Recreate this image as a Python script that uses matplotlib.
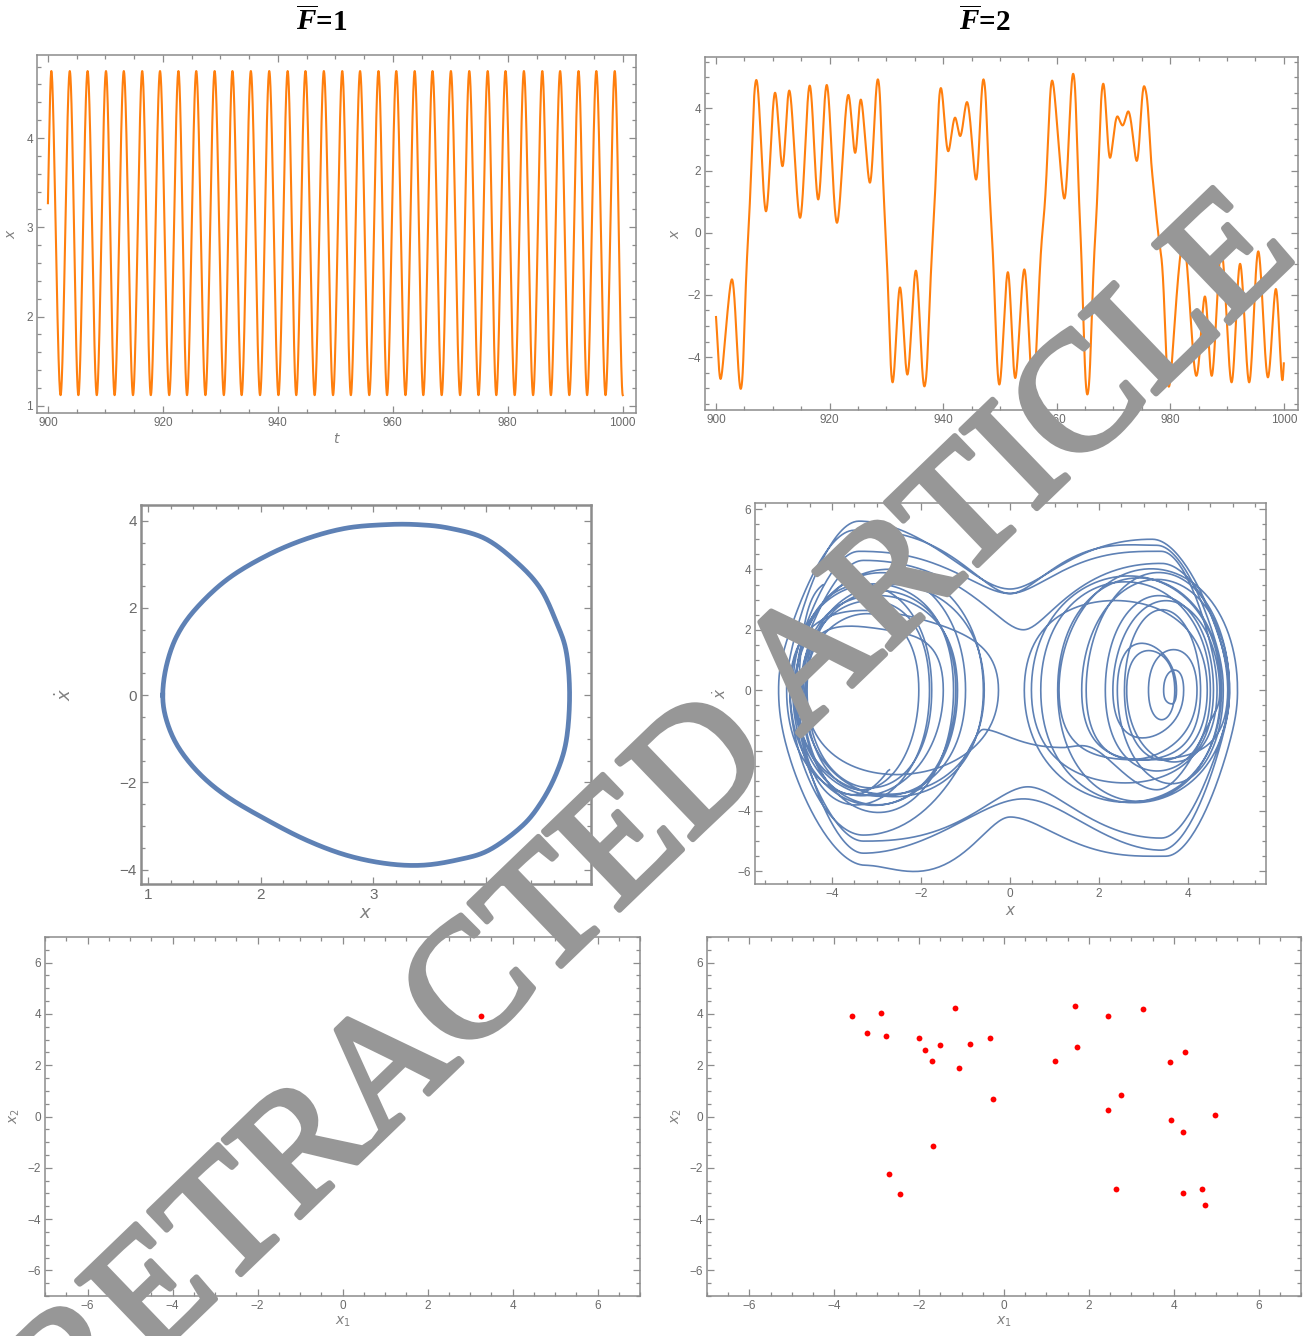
import numpy as np
import matplotlib
matplotlib.use("Agg")
import matplotlib.pyplot as plt
import matplotlib.patheffects as pe
from matplotlib.ticker import MultipleLocator

plt.rcParams['font.family'] = ['Liberation Sans', 'DejaVu Sans']
plt.rcParams['mathtext.fontset'] = 'dejavusans'
# serif bold italic only used by the column headings (math_fontfamily='custom')
plt.rcParams['mathtext.it'] = 'Liberation Serif:bold:italic'
plt.rcParams['mathtext.rm'] = 'Liberation Serif:bold'
plt.rcParams['mathtext.bf'] = 'Liberation Serif:bold'

# ---------------------------------------------------------------
# F = 1 : periodic response (extrema of x(t), 900 <= t <= 1000)
# ---------------------------------------------------------------
f1_peak_t = [900.6, 903.8, 906.9, 910.1, 913.2, 916.4, 919.5, 922.7,
             925.8, 929.0, 932.1, 935.3, 938.5, 941.7, 944.8, 948.0,
             951.2, 954.3, 957.5, 960.6, 963.8, 966.9, 970.1, 973.3,
             976.5, 979.6, 982.8, 986.0, 989.1, 992.3, 995.4, 998.6]
f1_trough_t = [902.2, 905.3, 908.5, 911.6, 914.8, 917.9, 921.1, 924.2,
               927.4, 930.6, 933.7, 936.9, 940.1, 943.2, 946.4, 949.6,
               952.7, 955.9, 959.0, 962.2, 965.3, 968.5, 971.7, 974.9,
               978.0, 981.2, 984.4, 987.5, 990.7, 993.8, 997.0, 1000.0]
f1_peak_x = 4.75
f1_trough_x = 1.12
f1_start = (900.0, 3.27, 3.0)   # t, x, dx/dt

# phase loop (x, dx/dt) for F = 1
f1_loop_x = [1.13, 1.165, 1.26, 1.43, 1.71, 2.06, 2.41, 2.76, 3.11, 3.39,
             3.67, 3.99, 4.27, 4.48, 4.62, 4.71, 4.74, 4.71, 4.62, 4.48,
             4.31, 4.02, 3.74, 3.43, 3.11, 2.76, 2.41, 2.06, 1.71, 1.46,
             1.27, 1.165, 1.13]
f1_loop_v = [0.0, 0.70, 1.38, 2.00, 2.67, 3.21, 3.59, 3.83, 3.91, 3.91,
             3.83, 3.59, 3.05, 2.45, 1.69, 1.00, 0.0, -1.05, -1.81, -2.49,
             -3.02, -3.56, -3.78, -3.90, -3.86, -3.67, -3.33, -2.87, -2.34,
             -1.81, -1.20, -0.59, 0.0]

# Poincare section, F = 1
f1_pc_x1 = [3.27]
f1_pc_x2 = [3.91]

# ---------------------------------------------------------------
# F = 2 : chaotic response, knots of x(t) with slope dx/dt
# (turning points have zero slope; well-to-well passages carry
#  intermediate knots)
# ---------------------------------------------------------------
f2_t = [900.0, 900.8, 902.8, 904.35,
        904.93, 905.69, 906.44,
        907.1, 908.8, 910.4, 911.7, 912.9, 914.8, 916.5, 918.0, 919.5,
        921.3, 923.3, 924.5, 925.5, 927.1, 928.5,
        929.08, 929.78, 930.58,
        931.1, 932.4, 933.7, 935.2, 936.7,
        937.37, 938.22, 939.06,
        939.6, 940.9, 942.1, 943.0, 944.2, 945.8, 947.1,
        947.72, 948.45, 949.32,
        949.9, 951.4, 952.7, 954.3, 955.8,
        956.52, 957.62, 958.58,
        959.2, 961.35, 962.9,
        963.48, 964.18, 964.78,
        965.4,
        966.03, 966.82, 967.6,
        968.2, 969.4, 970.7, 971.6, 972.6, 974.1, 975.4,
        976.3, 977.2, 978.3, 979.15,
        979.75, 982.3, 984.6, 986.1, 987.3, 989.0, 990.8, 992.3, 993.9,
        995.5, 997.2, 998.6, 999.75, 1000.0]
f2_x = [-2.71, -4.70, -1.50, -5.02,
        -3.4, 0.0, 3.2,
        4.91, 0.69, 4.50, 2.14, 4.57, 0.48, 4.73, 1.07, 4.75,
        0.32, 4.43, 2.57, 4.28, 1.61, 4.93,
        3.4, 0.3, -3.3,
        -4.81, -1.76, -4.56, -1.22, -4.94,
        -3.4, 0.0, 3.4,
        4.65, 2.62, 3.70, 3.11, 4.20, 1.71, 4.93,
        3.4, 0.4, -3.3,
        -4.88, -1.27, -4.67, -1.18, -4.85,
        -3.3, 0.3, 3.4,
        4.89, 1.10, 5.11,
        3.5, 0.0, -3.25,
        -5.20,
        -3.5, 0.0, 3.3,
        4.79, 2.41, 3.74, 3.45, 3.90, 2.31, 4.71,
        3.3, 1.2, -0.6, -3.3,
        -4.95, -0.26, -4.60, -2.05, -4.60, -0.58, -4.81, -1.00, -4.81,
        -0.60, -4.65, -1.81, -4.74, -4.20]
f2_v = [-2.6, 0, 0, 0,
        5.6, 3.35, 5.0,
        0, 0, 0, 0, 0, 0, 0, 0, 0,
        0, 0, 0, 0, 0, 0,
        -5.3, -3.6, -5.4,
        0, 0, 0, 0, 0,
        4.6, 3.2, 4.6,
        0, 0, 0, 0, 0, 0, 0,
        -4.9, -3.2, -5.0,
        0, 0, 0, 0, 0,
        4.3, 2.0, 4.2,
        0, 0, 0,
        -5.5, -4.2, -5.8,
        0,
        5.3, 3.2, 4.8,
        0, 0, 0, 0, 0, 0, 0,
        -3.3, -1.9, -1.3, -4.8,
        0, 0, 0, 0, 0, 0, 0, 0, 0,
        0, 0, 0, 0, 3.5]

# Poincare section, F = 2
f2_pc_x1 = [-3.58, -3.24, -2.89, -2.79, -2.00, -1.87, -1.52, -1.70, -1.16,
            -1.07, -0.81, -0.34, -0.26, -1.68, -2.72, -2.44, 1.20, 1.68,
            1.73, 2.44, 3.28, 2.44, 2.75, 2.63, 3.92, 4.26, 3.94, 4.21,
            4.98, 4.21, 4.67, 4.73]
f2_pc_x2 = [3.91, 3.26, 4.03, 3.15, 3.07, 2.59, 2.80, 2.15, 4.23,
            1.90, 2.82, 3.07, 0.70, -1.16, -2.25, -3.04, 2.15, 4.30,
            2.70, 3.90, 4.19, 0.27, 0.83, -2.83, 2.11, 2.51, -0.13, -0.61,
            0.07, -2.99, -2.83, -3.47]


def knot_curve(t, x, v, n=60):
    """Smooth x(t) through knots (quintic Hermite, continuous acceleration).
    Returns dense t, x(t) and dx/dt."""
    t, x, v = (np.asarray(a, float) for a in (t, x, v))
    T = np.diff(t)
    # one-sided accelerations of the cubic through each segment
    a_start = (-6 * x[:-1] - 4 * T * v[:-1] + 6 * x[1:] - 2 * T * v[1:]) / T**2
    a_end = (6 * x[:-1] + 2 * T * v[:-1] - 6 * x[1:] + 4 * T * v[1:]) / T**2
    a = np.zeros_like(x)
    a[0], a[-1] = a_start[0], a_end[-1]
    for i in range(1, len(x) - 1):
        # speed extremes along a passage have zero acceleration
        a[i] = 0.5 * (a_end[i - 1] + a_start[i]) if v[i] == 0 else 0.0
    s = np.linspace(0.0, 1.0, n, endpoint=False)
    h0 = 1 - 10 * s**3 + 15 * s**4 - 6 * s**5
    h1 = s - 6 * s**3 + 8 * s**4 - 3 * s**5
    h2 = 0.5 * s**2 - 1.5 * s**3 + 1.5 * s**4 - 0.5 * s**5
    h3 = 0.5 * s**3 - s**4 + 0.5 * s**5
    h4 = -4 * s**3 + 7 * s**4 - 3 * s**5
    h5 = 10 * s**3 - 15 * s**4 + 6 * s**5
    ts, xs = [], []
    for i in range(len(T)):
        d = T[i]
        xs.append(h0 * x[i] + h1 * d * v[i] + h2 * d**2 * a[i]
                  + h3 * d**2 * a[i + 1] + h4 * d * v[i + 1] + h5 * x[i + 1])
        ts.append(t[i] + s * d)
    ts.append([t[-1]])
    xs.append([x[-1]])
    tt, xx = np.concatenate(ts), np.concatenate(xs)
    return tt, xx, np.gradient(xx, tt)


def closed_spline(px, py, n=16):
    """Closed Catmull-Rom curve through the listed points."""
    P = np.column_stack([px, py])[:-1]
    m = len(P)
    s = np.linspace(0, 1, n, endpoint=False)[:, None]
    out = []
    for i in range(m):
        p0, p1, p2, p3 = P[i - 1], P[i], P[(i + 1) % m], P[(i + 2) % m]
        out.append(0.5 * (2 * p1 + (-p0 + p2) * s
                          + (2 * p0 - 5 * p1 + 4 * p2 - p3) * s**2
                          + (-p0 + 3 * p1 - 3 * p2 + p3) * s**3))
    out.append(P[:1])
    out = np.vstack(out)
    return out[:, 0], out[:, 1]


# knots of the F = 1 series: start point then alternating peaks / troughs
f1_t = [f1_start[0]]
f1_x = [f1_start[1]]
f1_v = [f1_start[2]]
for tp, tt in zip(f1_peak_t, f1_trough_t):
    f1_t += [tp, tt]
    f1_x += [f1_peak_x, f1_trough_x]
    f1_v += [0.0, 0.0]

t1, x1, _ = knot_curve(f1_t, f1_x, f1_v)
t2, x2, v2 = knot_curve(f2_t, f2_x, f2_v)
loop_x, loop_v = closed_spline(f1_loop_x, f1_loop_v)

ORANGE = '#ff7f0e'
BLUE = '#5e81b5'
FRAME = '#8c8c8c'
TICKTXT = '#6a6a6a'
LABEL = '#808080'


def style(ax, xmaj, xmin, ymaj, ymin, fs=8.5, lw=1.1):
    ax.xaxis.set_major_locator(MultipleLocator(xmaj))
    ax.xaxis.set_minor_locator(MultipleLocator(xmin))
    ax.yaxis.set_major_locator(MultipleLocator(ymaj))
    ax.yaxis.set_minor_locator(MultipleLocator(ymin))
    ax.tick_params(which='both', direction='in', top=True, right=True,
                   color=FRAME, labelcolor=TICKTXT, labelsize=fs, width=0.9)
    ax.tick_params(which='major', length=5, pad=3)
    ax.tick_params(which='minor', length=2.8)
    for sp in ax.spines.values():
        sp.set_color(FRAME)
        sp.set_linewidth(lw)


W, H = 1306, 1336
fig = plt.figure(figsize=(W / 100, H / 100), dpi=100)


def axes_px(l, r, t, b):
    return fig.add_axes([l / W, 1 - b / H, (r - l) / W, (b - t) / H])


# time series, F = 1
ax = axes_px(37, 636, 55, 413)
ax.plot(t1, x1, color=ORANGE, lw=1.5)
ax.set_xlim(898.1, 1002.3)
ax.set_ylim(0.92, 4.93)
style(ax, 20, 5, 1, 0.2)
ax.set_xlabel('$t$', color=LABEL, fontsize=10, labelpad=2)
ax.set_ylabel('$x$', color=LABEL, fontsize=10, labelpad=6)

# time series, F = 2
ax = axes_px(705, 1298, 57, 410)
ax.plot(t2, x2, color=ORANGE, lw=1.5)
ax.set_xlim(898.06, 1002.5)
ax.set_ylim(-5.7, 5.65)
style(ax, 20, 5, 2, 0.5)
ax.set_ylabel('$x$', color=LABEL, fontsize=10, labelpad=4)

# phase portrait, F = 1
ax = axes_px(141, 591, 505, 884)
ax.plot(loop_x, loop_v, color=BLUE, lw=3.4, solid_joinstyle='round')
ax.set_xlim(0.937, 4.93)
ax.set_ylim(-4.33, 4.36)
style(ax, 1, 0.2, 2, 0.5, fs=11, lw=1.8)
ax.set_xlabel('$x$', color=LABEL, fontsize=13, labelpad=2)
ax.set_ylabel(r'$\dot{x}$', color=LABEL, fontsize=13, labelpad=32)

# phase portrait, F = 2
ax = axes_px(755, 1266, 503, 884)
ax.plot(x2, v2, color=BLUE, lw=1.2)
ax.set_xlim(-5.73, 5.75)
ax.set_ylim(-6.42, 6.2)
style(ax, 2, 0.5, 2, 0.5)
ax.set_xlabel('$x$', color=LABEL, fontsize=11, labelpad=3)
ax.set_ylabel(r'$\dot{x}$', color=LABEL, fontsize=11, labelpad=6)

# Poincare sections
for (l, r), px, py in [((45, 640), f1_pc_x1, f1_pc_x2),
                       ((707, 1301), f2_pc_x1, f2_pc_x2)]:
    ax = axes_px(l, r, 937, 1296)
    ax.plot(px, py, 'o', color='#ff0000', ms=4.2, mec='none')
    ax.set_xlim(-7, 7)
    ax.set_ylim(-7, 7)
    style(ax, 2, 0.5, 2, 0.5)
    ax.set_xlabel('$x_1$', color=LABEL, fontsize=10, labelpad=2)
    ax.set_ylabel('$x_2$', color=LABEL, fontsize=10, labelpad=4)

# column headings
for xc, val in [(322, '1'), (985, '2')]:
    fig.text(xc / W, 1 - 22 / H, r'$\overline{F}$=' + val, ha='center', va='center',
             fontsize=21, family='Liberation Serif', weight='bold',
             math_fontfamily='custom')

# watermark
fig.text(656 / W, 1 - 819 / H, 'RETRACTED ARTICLE', rotation=43.9,
         rotation_mode='anchor', ha='center', va='center', fontsize=120,
         family='Liberation Serif', color='#979797', zorder=10,
         path_effects=[pe.withStroke(linewidth=4, foreground='#979797')])

fig.savefig('out.png', dpi=100)
